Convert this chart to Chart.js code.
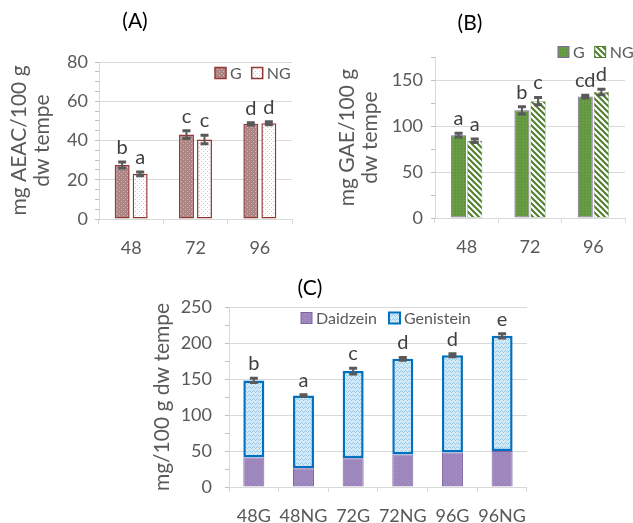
<!DOCTYPE html>
<html>
<head>
<meta charset="utf-8">
<script src="https://cdn.jsdelivr.net/npm/chart.js@4.4.0/dist/chart.umd.min.js"></script>
<style>
  html, body { margin: 0; padding: 0; background: #fff; }
  .panel { position: absolute; }
  #boxA { left: 0; top: 0; width: 316px; height: 262px; }
  #boxB { left: 316px; top: 0; width: 317px; height: 262px; }
  #boxC { left: 140px; top: 262px; width: 400px; height: 261px; }
</style>
</head>
<body>
<div class="panel" id="boxA"><canvas id="chartA"></canvas></div>
<div class="panel" id="boxB"><canvas id="chartB"></canvas></div>
<div class="panel" id="boxC"><canvas id="chartC"></canvas></div>
<script>
// (A) antioxidant activity
const hours = ['48', '72', '96'];
const aeacG = [27.5, 43.0, 48.5];
const aeacNG = [23.0, 40.5, 48.8];
const aeacErrG = [1.5, 2.0, 0.6];
const aeacErrNG = [1.0, 2.2, 0.8];
const aeacLetG = ['b', 'c', 'd'];
const aeacLetNG = ['a', 'c', 'd'];

// (B) phenolic content
const gaeG = [90, 117, 132];
const gaeNG = [84, 127, 137];
const gaeErrG = [2, 4, 1.5];
const gaeErrNG = [2, 4, 3];
const gaeLetG = ['a', 'b', 'cd'];
const gaeLetNG = ['a', 'c', 'd'];

// (C) isoflavones
const samples = ['48G', '48NG', '72G', '72NG', '96G', '96NG'];
const daidzein = [41, 26, 40, 45, 48, 50];
const genistein = [107, 101, 121, 133, 135, 160];
const isoErr = [3, 1, 4, 2, 2, 3];
const isoLet = ['b', 'a', 'c', 'd', 'd', 'e'];

Chart.defaults.font.family = 'Lato';
Chart.defaults.color = '#595959';
Chart.defaults.animation = false;

function makePattern(size, draw) {
  const c = document.createElement('canvas');
  c.width = size; c.height = size;
  const g = c.getContext('2d');
  draw(g, size);
  return g.createPattern(c, 'repeat');
}

const dotsDark = makePattern(4, (g) => {
  g.fillStyle = '#ad8585'; g.fillRect(0, 0, 4, 4);
  g.fillStyle = '#d2b4b4'; g.fillRect(1, 1, 1, 1); g.fillRect(3, 3, 1, 1);
});
const dotsLight = makePattern(4, (g) => {
  g.fillStyle = '#ffffff'; g.fillRect(0, 0, 4, 4);
  g.fillStyle = '#e6b9b9'; g.fillRect(1, 1, 1, 1); g.fillRect(3, 3, 1, 1);
});
const greenSolid = makePattern(3, (g) => {
  g.fillStyle = '#689c44'; g.fillRect(0, 0, 3, 3);
  g.fillStyle = '#578a35'; g.fillRect(1, 1, 1, 1);
});
const greenStripes = makePattern(6, (g) => {
  g.fillStyle = '#ffffff'; g.fillRect(0, 0, 6, 6);
  g.strokeStyle = '#4e7d2c'; g.lineWidth = 2;
  g.beginPath();
  g.moveTo(-1, -1); g.lineTo(7, 7);
  g.moveTo(-4, 2); g.lineTo(4, 10);
  g.moveTo(2, -4); g.lineTo(10, 4);
  g.stroke();
});
const purpleFill = makePattern(4, (g) => {
  g.fillStyle = '#9c84bd'; g.fillRect(0, 0, 4, 4);
  g.fillStyle = '#ad98c9'; g.fillRect(0, 0, 1, 1); g.fillRect(2, 2, 1, 1);
});
const blueFill = makePattern(4, (g) => {
  g.fillStyle = '#d2eaf8'; g.fillRect(0, 0, 4, 4);
  g.fillStyle = '#9ccbea'; g.fillRect(0, 1, 1, 1); g.fillRect(1, 0, 1, 1); g.fillRect(2, 1, 1, 1); g.fillRect(3, 2, 1, 1);
});

// error bars + significance letters
const errorBarPlugin = {
  id: 'errorBars',
  afterDatasetsDraw(chart, args, opts) {
    const ctx = chart.ctx;
    const y = chart.scales.y;
    (opts.sets || []).forEach(set => {
      const meta = chart.getDatasetMeta(set.dataset);
      meta.data.forEach((bar, i) => {
        const top = y.getValueForPixel(bar.y);
        const err = set.errors[i];
        const yHi = y.getPixelForValue(top + err);
        const yLo = y.getPixelForValue(top - err);
        ctx.save();
        ctx.strokeStyle = '#595959';
        ctx.lineWidth = 2;
        ctx.beginPath();
        ctx.moveTo(bar.x, yHi); ctx.lineTo(bar.x, yLo);
        ctx.stroke();
        ctx.lineWidth = 3;
        ctx.beginPath();
        ctx.moveTo(bar.x - 4, yHi); ctx.lineTo(bar.x + 4, yHi);
        ctx.moveTo(bar.x - 4, yLo); ctx.lineTo(bar.x + 4, yLo);
        ctx.stroke();
        ctx.fillStyle = '#404040';
        ctx.font = '20px Lato';
        ctx.textAlign = 'center';
        ctx.textBaseline = 'alphabetic';
        ctx.fillText(set.letters[i], bar.x, yHi - 8);
        ctx.restore();
      });
    });
  }
};

const panelLabelPlugin = {
  id: 'panelLabel',
  afterDraw(chart, args, opts) {
    const ctx = chart.ctx;
    ctx.save();
    ctx.font = '21px Lato';
    ctx.fillStyle = '#000';
    ctx.textAlign = 'center';
    ctx.textBaseline = 'middle';
    ctx.fillText(opts.text, opts.x, opts.y);
    ctx.restore();
  }
};

// legend drawn in a single row with patterned boxes
const boxLegendPlugin = {
  id: 'boxLegend',
  afterDraw(chart, args, opts) {
    const ctx = chart.ctx;
    let x = opts.x;
    ctx.save();
    ctx.font = '16px Lato';
    ctx.textBaseline = 'middle';
    ctx.textAlign = 'left';
    chart.data.datasets.forEach(ds => {
      ctx.fillStyle = ds.backgroundColor;
      ctx.fillRect(x, opts.y - 5.5, 11, 11);
      ctx.strokeStyle = ds.borderColor;
      ctx.lineWidth = Math.max(1, Math.min(2, ds.borderWidth));
      ctx.strokeRect(x, opts.y - 5.5, 11, 11);
      ctx.fillStyle = '#595959';
      ctx.fillText(ds.label, x + 15, opts.y + 1);
      x += 15 + ctx.measureText(ds.label).width + opts.gap;
    });
    ctx.restore();
  }
};

function yAxis(max, step, major, title, width, pad, titlePad) {
  return {
    min: 0,
    max: max,
    afterFit: s => { s.width = width; },
    ticks: {
      stepSize: step,
      autoSkip: false,
      padding: pad,
      color: '#595959',
      font: { size: 18 },
      callback: v => (v % major === 0 ? v : '')
    },
    grid: {
      color: c => (c.tick && c.tick.value % major === 0) ? '#d9d9d9' : 'rgba(0,0,0,0)',
      tickColor: '#bfbfbf',
      tickLength: 4
    },
    border: { color: '#d9d9d9' },
    title: {
      display: true,
      text: title,
      color: '#595959',
      font: { size: 21, lineHeight: 1.1 },
      padding: { top: titlePad, bottom: 0 }
    }
  };
}

function xAxis(height) {
  return {
    afterFit: s => { s.height = height; },
    ticks: { color: '#595959', font: { size: 18 }, padding: 13, maxRotation: 0, minRotation: 0, autoSkip: false },
    grid: { offset: true, drawOnChartArea: false, color: '#d9d9d9', tickLength: 5 },
    border: { color: '#d9d9d9' }
  };
}

// Panel A
new Chart(document.getElementById('chartA'), {
  type: 'bar',
  data: {
    labels: hours,
    datasets: [
      { label: 'G', data: aeacG, backgroundColor: dotsDark, borderColor: '#953735', borderWidth: 1.5,
        borderSkipped: false, categoryPercentage: 0.56, barPercentage: 0.83 },
      { label: 'NG', data: aeacNG, backgroundColor: dotsLight, borderColor: '#953735', borderWidth: 1.5,
        borderSkipped: false, categoryPercentage: 0.56, barPercentage: 0.83 }
    ]
  },
  options: {
    responsive: true,
    maintainAspectRatio: false,
    layout: { padding: { top: 62, right: 24, bottom: 0, left: 0 } },
    plugins: {
      legend: { display: false },
      tooltip: { enabled: false },
      errorBars: { sets: [
        { dataset: 0, errors: aeacErrG, letters: aeacLetG },
        { dataset: 1, errors: aeacErrNG, letters: aeacLetNG }
      ] },
      panelLabel: { text: '(A)', x: 135, y: 21 },
      boxLegend: { x: 215, y: 73, gap: 10 }
    },
    scales: {
      x: xAxis(43),
      y: yAxis(80, 5, 20, ['mg AEAC/100 g', 'dw tempe'], 99, 7, 8)
    }
  },
  plugins: [errorBarPlugin, panelLabelPlugin, boxLegendPlugin]
});

// Panel B
new Chart(document.getElementById('chartB'), {
  type: 'bar',
  data: {
    labels: hours,
    datasets: [
      { label: 'G', data: gaeG, backgroundColor: greenSolid, borderColor: '#8064a2', borderWidth: 1,
        borderSkipped: false, categoryPercentage: 0.51, barPercentage: 0.93 },
      { label: 'NG', data: gaeNG, backgroundColor: greenStripes, borderColor: '#4e7d2c', borderWidth: 0.5,
        borderSkipped: false, categoryPercentage: 0.51, barPercentage: 0.93 }
    ]
  },
  options: {
    responsive: true,
    maintainAspectRatio: false,
    layout: { padding: { top: 57, right: 8, bottom: 0, left: 0 } },
    plugins: {
      legend: { display: false },
      tooltip: { enabled: false },
      errorBars: { sets: [
        { dataset: 0, errors: gaeErrG, letters: gaeLetG },
        { dataset: 1, errors: gaeErrNG, letters: gaeLetNG }
      ] },
      panelLabel: { text: '(B)', x: 154, y: 23 },
      boxLegend: { x: 242, y: 52, gap: 10 }
    },
    scales: {
      x: xAxis(44),
      y: yAxis(175, 25, 50, ['mg GAE/100 g', 'dw tempe'], 119, 8, 20)
    }
  },
  plugins: [errorBarPlugin, panelLabelPlugin, boxLegendPlugin]
});

// Panel C
new Chart(document.getElementById('chartC'), {
  type: 'bar',
  data: {
    labels: samples,
    datasets: [
      { label: 'Daidzein', data: daidzein, backgroundColor: purpleFill, borderColor: '#8064a2', borderWidth: 1,
        categoryPercentage: 0.9, barPercentage: 0.47 },
      { label: 'Genistein', data: genistein, backgroundColor: blueFill, borderColor: '#0070c0', borderWidth: 2.5,
        borderSkipped: false, categoryPercentage: 0.9, barPercentage: 0.47 }
    ]
  },
  options: {
    responsive: true,
    maintainAspectRatio: false,
    layout: { padding: { top: 45, right: 12, bottom: 0, left: 0 } },
    plugins: {
      legend: { display: false },
      tooltip: { enabled: false },
      errorBars: { sets: [
        { dataset: 1, errors: isoErr, letters: isoLet }
      ] },
      panelLabel: { text: '(C)', x: 170, y: 26 },
      boxLegend: { x: 161, y: 56, gap: 12 }
    },
    scales: {
      x: Object.assign(xAxis(36), { stacked: true }),
      y: Object.assign(yAxis(250, 25, 50, 'mg/100 g dw tempe', 89, 13, 11), { stacked: true })
    }
  },
  plugins: [errorBarPlugin, panelLabelPlugin, boxLegendPlugin]
});
</script>
</body>
</html>
